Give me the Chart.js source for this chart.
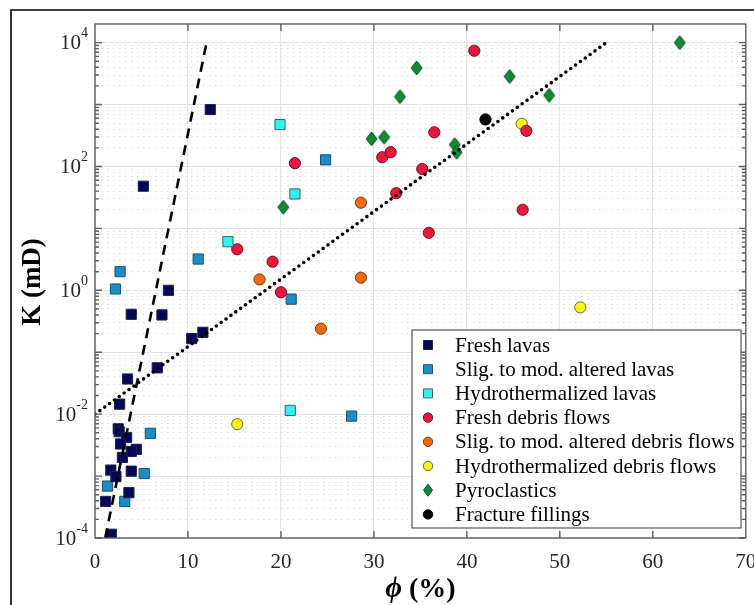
<!DOCTYPE html>
<html>
<head>
<meta charset="utf-8">
<script src="https://cdn.jsdelivr.net/npm/chart.js@4.4.0/dist/chart.umd.min.js"></script>
<style>
  html, body { margin: 0; padding: 0; background: #fff; }
  canvas { display: block; }
</style>
</head>
<body>
<canvas id="chart" width="754" height="605"></canvas>
<script>
// porosity (%) and permeability (mD), one pair of arrays per rock type
const freshLavasPhi = [12.4, 5.2, 7.9, 3.9, 7.2, 10.4, 11.6, 6.7, 3.5, 2.65, 2.5, 2.6, 3.4, 2.75, 4.45, 3.9, 2.95, 1.7, 2.25, 3.9, 1.15, 3.65, 1.75];
const freshLavasK = [830, 48, 1.0, 0.41, 0.40, 0.166, 0.21, 0.056, 0.037, 0.0145, 0.0058, 0.0052, 0.0042, 0.0033, 0.0027, 0.0025, 0.0020, 0.00125, 0.00098, 0.0012, 0.00039, 0.00054, 0.000115];

const altLavasPhi = [2.2, 2.7, 11.1, 24.8, 21.1, 27.6, 5.95, 5.3, 1.35, 3.2];
const altLavasK = [1.05, 2.0, 3.2, 128, 0.72, 0.0093, 0.0049, 0.0011, 0.00069, 0.00039];

const hydroLavasPhi = [19.9, 21.5, 14.3, 21.0];
const hydroLavasK = [475, 36, 6.1, 0.0115];

const freshDebrisPhi = [40.8, 36.5, 21.5, 30.9, 31.8, 35.2, 32.4, 35.9, 15.3, 19.1, 20.0, 46.4, 46.0];
const freshDebrisK = [7400, 356, 113, 141, 170, 91, 37, 8.5, 4.6, 2.9, 0.93, 377, 20];

const altDebrisPhi = [28.6, 17.7, 28.6, 24.3];
const altDebrisK = [26, 1.5, 1.6, 0.24];

const hydroDebrisPhi = [15.3, 45.9, 52.2];
const hydroDebrisK = [0.0069, 490, 0.53];

const pyroPhi = [34.6, 32.8, 29.75, 31.1, 38.7, 38.9, 20.25, 44.6, 48.85, 62.9];
const pyroK = [3900, 1340, 280, 297, 225, 170, 22, 2840, 1410, 10000];

const fracturePhi = [42.0];
const fractureK = [575];

// the two trend lines
const dashedPhi = [1.1, 12.0];
const dashedK = [1e-4, 1e4];
const dottedPhi = [0, 55];
const dottedK = [0.01, 1e4];

const xTickLabels = ["0", "10", "20", "30", "40", "50", "60", "70"];
const yTickExponents = ["-4", "-2", "0", "2", "4"];

const pts = (xs, ys) => xs.map((x, i) => ({ x, y: ys[i] }));

function diamond(w, h, fill, stroke) {
  const c = document.createElement("canvas");
  c.width = w + 2;
  c.height = h + 2;
  const g = c.getContext("2d");
  g.beginPath();
  g.moveTo(c.width / 2, 1);
  g.lineTo(c.width - 1, c.height / 2);
  g.lineTo(c.width / 2, c.height - 1);
  g.lineTo(1, c.height / 2);
  g.closePath();
  g.fillStyle = fill;
  g.fill();
  g.strokeStyle = stroke;
  g.lineWidth = 1;
  g.stroke();
  return c;
}

const series = [
  { label: "Fresh lavas", xs: freshLavasPhi, ys: freshLavasK, shape: "rect", fill: "#07075a", stroke: "#202040" },
  { label: "Slig. to mod. altered lavas", xs: altLavasPhi, ys: altLavasK, shape: "rect", fill: "#1a8ec4", stroke: "#1f4f6f" },
  { label: "Hydrothermalized lavas", xs: hydroLavasPhi, ys: hydroLavasK, shape: "rect", fill: "#2ff3f3", stroke: "#4a5a6a" },
  { label: "Fresh debris flows", xs: freshDebrisPhi, ys: freshDebrisK, shape: "circle", fill: "#e8173c", stroke: "#6a1020" },
  { label: "Slig. to mod. altered debris flows", xs: altDebrisPhi, ys: altDebrisK, shape: "circle", fill: "#f06a14", stroke: "#7a3a10" },
  { label: "Hydrothermalized debris flows", xs: hydroDebrisPhi, ys: hydroDebrisK, shape: "circle", fill: "#f6f41a", stroke: "#6a6a40" },
  { label: "Pyroclastics", xs: pyroPhi, ys: pyroK, shape: "diamond", fill: "#108a34", stroke: "#0a4a1c" },
  { label: "Fracture fillings", xs: fracturePhi, ys: fractureK, shape: "circle", fill: "#000000", stroke: "#000000" },
];

const datasets = series.map((s) => ({
  label: s.label,
  data: pts(s.xs, s.ys),
  pointStyle: s.shape === "diamond" ? diamond(11, 14, s.fill, s.stroke) : s.shape,
  pointRadius: s.shape === "rect" ? 7.2 : 5.6,
  backgroundColor: s.fill,
  borderColor: s.stroke,
  borderWidth: 1,
  order: 1,
}));

datasets.push({
  type: "line",
  label: "dashed fit",
  isFit: true,
  data: pts(dashedPhi, dashedK),
  borderColor: "#000",
  borderWidth: 2.6,
  borderDash: [10, 7],
  pointRadius: 0,
  order: 0,
});
datasets.push({
  type: "line",
  label: "dotted fit",
  isFit: true,
  data: pts(dottedPhi, dottedK),
  borderColor: "#000",
  borderWidth: 3.6,
  borderDash: [0, 6],
  borderCapStyle: "round",
  pointRadius: 0,
  order: 0,
});

const isMajor = (v) => Math.abs(Math.log10(v) - Math.round(Math.log10(v))) < 1e-6;

const chart = new Chart(document.getElementById("chart"), {
  type: "scatter",
  data: { datasets },
  options: {
    responsive: false,
    animation: false,
    devicePixelRatio: 1,
    layout: { padding: { left: 0, right: 8, top: 24, bottom: 0 } },
    plugins: {
      legend: { display: false },
      tooltip: { enabled: false },
    },
    scales: {
      x: {
        type: "linear",
        min: 0,
        max: 70,
        ticks: { display: false, stepSize: 10 },
        grid: { color: "#e6e6e6", lineWidth: 1, drawTicks: false },
        border: { display: false },
        afterFit: (scale) => { scale.height = 67; },
      },
      y: {
        type: "logarithmic",
        min: 1e-4,
        max: 2e4,
        ticks: { display: false },
        afterBuildTicks: (scale) => {
          const t = [];
          for (let e = -4; e <= 4; e++) {
            for (let m = 1; m <= 9; m++) {
              const v = m * Math.pow(10, e);
              if (v < 1.5e4) t.push({ value: v });
            }
          }
          scale.ticks = t;
        },
        grid: {
          color: (ctx) => (ctx.tick && isMajor(ctx.tick.value) ? "#e4e4e4" : "#dedede"),
          lineWidth: 1,
          drawTicks: false,
        },
        border: {
          display: false,
          dash: (ctx) => (ctx.tick && isMajor(ctx.tick.value) ? [] : [1.5, 4.5]),
        },
        afterFit: (scale) => { scale.width = 95; },
      },
    },
  },
  plugins: [
    {
      id: "background",
      beforeDraw: (chart) => {
        const { ctx } = chart;
        ctx.save();
        ctx.fillStyle = "#fff";
        ctx.fillRect(0, 0, chart.width, chart.height);
        ctx.restore();
      },
    },
    {
      id: "matlabAxes",
      afterDraw: (chart) => {
        const { ctx, chartArea: a } = chart;
        const x = chart.scales.x;
        const y = chart.scales.y;
        ctx.save();

        // figure frame
        ctx.strokeStyle = "#000";
        ctx.lineWidth = 1.6;
        ctx.beginPath();
        ctx.moveTo(11, chart.height);
        ctx.lineTo(11, 10);
        ctx.lineTo(chart.width, 10);
        ctx.stroke();

        // axes box and inward ticks
        ctx.strokeStyle = "#5e5e5e";
        ctx.lineWidth = 1.4;
        ctx.strokeRect(a.left, a.top, a.right - a.left, a.bottom - a.top);
        ctx.beginPath();
        for (let v = 10; v < 70; v += 10) {
          const px = x.getPixelForValue(v);
          ctx.moveTo(px, a.bottom); ctx.lineTo(px, a.bottom - 7);
          ctx.moveTo(px, a.top); ctx.lineTo(px, a.top + 7);
        }
        y.ticks.forEach((t) => {
          const py = y.getPixelForValue(t.value);
          const len = isMajor(t.value) ? 7 : 4;
          ctx.moveTo(a.left, py); ctx.lineTo(a.left + len, py);
          ctx.moveTo(a.right, py); ctx.lineTo(a.right - len, py);
        });
        ctx.stroke();

        // tick labels
        ctx.fillStyle = "#262626";
        ctx.font = '21px "Liberation Serif"';
        ctx.textAlign = "center";
        ctx.textBaseline = "middle";
        xTickLabels.forEach((lab) => {
          ctx.fillText(lab, x.getPixelForValue(Number(lab)), a.bottom + 24);
        });
        yTickExponents.forEach((ex) => {
          const py = y.getPixelForValue(Math.pow(10, Number(ex)));
          ctx.font = '14px "Liberation Serif"';
          const ew = ctx.measureText(ex).width;
          ctx.textAlign = "left";
          ctx.fillText(ex, 88 - ew, py - 9);
          ctx.font = '21px "Liberation Serif"';
          ctx.textAlign = "right";
          ctx.fillText("10", 88 - ew, py + 1);
        });

        // axis titles
        ctx.fillStyle = "#000";
        ctx.save();
        ctx.translate(33, 282);
        ctx.rotate(-Math.PI / 2);
        ctx.textAlign = "center";
        ctx.font = 'bold 27px "Liberation Serif"';
        ctx.fillText("K (mD)", 0, 0);
        ctx.restore();

        ctx.textAlign = "left";
        const phiFont = 'italic bold 29px "Liberation Serif"';
        const restFont = 'bold 28px "Liberation Serif"';
        ctx.font = phiFont;
        const pw = ctx.measureText("ϕ").width;
        ctx.font = restFont;
        const rw = ctx.measureText(" (%)").width;
        const sx = (a.left + a.right) / 2 - (pw + rw) / 2;
        ctx.font = phiFont;
        ctx.fillText("ϕ", sx, 590);
        ctx.font = restFont;
        ctx.fillText(" (%)", sx + pw, 590);
        ctx.restore();
      },
    },
    {
      id: "boxLegend",
      afterDraw: (chart) => {
        const { ctx } = chart;
        const items = chart.data.datasets.filter((d) => !d.isFit);
        const bx = 412, by = 330, bw = 329, bh = 198;
        ctx.save();
        ctx.fillStyle = "#fff";
        ctx.fillRect(bx, by, bw, bh);
        ctx.strokeStyle = "#555";
        ctx.lineWidth = 1.2;
        ctx.strokeRect(bx, by, bw, bh);
        ctx.font = '21px "Liberation Serif"';
        ctx.textBaseline = "middle";
        ctx.textAlign = "left";
        items.forEach((d, i) => {
          const cy = by + 15 + i * 24.2;
          const cx = 428;
          ctx.fillStyle = d.backgroundColor;
          ctx.strokeStyle = d.borderColor;
          ctx.lineWidth = 1;
          ctx.beginPath();
          if (d.pointStyle === "rect") {
            ctx.rect(cx - 4.5, cy - 4.5, 9, 9);
          } else if (d.pointStyle === "circle") {
            ctx.arc(cx, cy, 4.7, 0, Math.PI * 2);
          } else {
            ctx.moveTo(cx, cy - 6); ctx.lineTo(cx + 4.5, cy); ctx.lineTo(cx, cy + 6); ctx.lineTo(cx - 4.5, cy);
            ctx.closePath();
          }
          ctx.fill();
          ctx.stroke();
          ctx.fillStyle = "#000";
          ctx.fillText(d.label, 455, cy + 1);
        });
        ctx.restore();
      },
    },
  ],
});
</script>
</body>
</html>
